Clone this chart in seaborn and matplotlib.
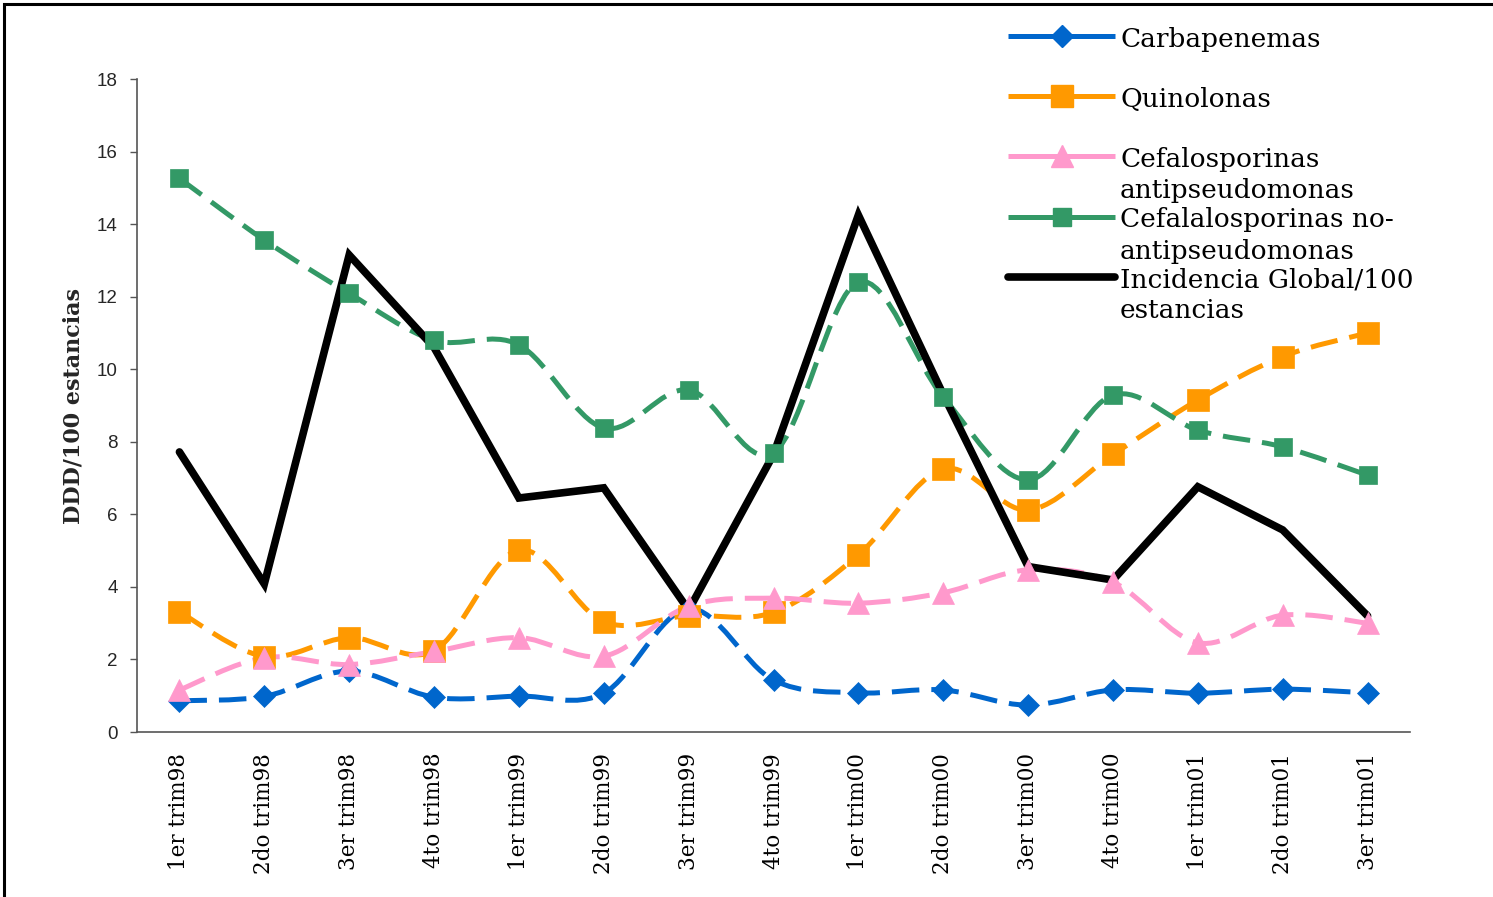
import numpy as np
import pandas as pd
import matplotlib
matplotlib.use("Agg")
import matplotlib.pyplot as plt
from matplotlib.path import Path
from matplotlib.patches import PathPatch, Rectangle
from matplotlib.lines import Line2D
import seaborn as sns

# Quarterly consumption (DDD per 100 stays) and global incidence
trimestres = ["1er trim98", "2do trim98", "3er trim98", "4to trim98",
              "1er trim99", "2do trim99", "3er trim99", "4to trim99",
              "1er trim00", "2do trim00", "3er trim00", "4to trim00",
              "1er trim01", "2do trim01", "3er trim01"]
carbapenemas = [0.86, 0.98, 1.68, 0.96, 0.99, 1.07, 3.40, 1.43, 1.08, 1.16, 0.74, 1.16, 1.07, 1.18, 1.08]
quinolonas = [3.31, 2.08, 2.60, 2.24, 5.02, 3.04, 3.21, 3.30, 4.88, 7.25, 6.12, 7.65, 9.15, 10.35, 11.00]
cefalo_anti = [1.16, 2.05, 1.86, 2.22, 2.60, 2.09, 3.47, 3.69, 3.55, 3.84, 4.47, 4.13, 2.46, 3.22, 3.00]
cefalo_no_anti = [15.26, 13.56, 12.09, 10.80, 10.67, 8.38, 9.43, 7.70, 12.40, 9.23, 6.95, 9.29, 8.32, 7.86, 7.08]
incidencia = [7.72, 4.08, 13.15, 10.60, 6.45, 6.73, 3.36, 7.65, 14.25, 9.30, 4.56, 4.19, 6.76, 5.57, 3.20]

series_names = ["Carbapenemas", "Quinolonas", "Cefalosporinas\nantipseudomonas",
                "Cefalalosporinas no-\nantipseudomonas", "Incidencia Global/100\nestancias"]
y_ticks = [0, 2, 4, 6, 8, 10, 12, 14, 16, 18]

W, H = 1493, 897
sns.set_theme(style="white")
plt.rcParams["font.family"] = ["DejaVu Serif"]

fig = plt.figure(figsize=(W / 100, H / 100), dpi=100)
ax = fig.add_axes([137 / W, 1 - 732 / H, (1410 - 137) / W, (732 - 79) / H])

pos = np.arange(len(trimestres))


def smooth_path(xs, ys):
    """Cubic Bezier path through the points (spreadsheet-style smoothing)."""
    pts = np.column_stack([xs, ys]).astype(float)
    n = len(pts)
    verts = [pts[0]]
    codes = [Path.MOVETO]
    for i in range(n - 1):
        p0 = pts[i - 1] if i > 0 else pts[i]
        p1, p2 = pts[i], pts[i + 1]
        p3 = pts[i + 2] if i + 2 < n else pts[i + 1]
        verts += [p1 + (p2 - p0) / 6.0, p2 - (p3 - p1) / 6.0, p2]
        codes += [Path.CURVE4] * 3
    return Path(verts, codes)


styles = [
    (carbapenemas, "#0066CC", "D", 11.5),
    (quinolonas, "#FF9900", "s", 15.5),
    (cefalo_anti, "#FF99CC", "^", 16),
    (cefalo_no_anti, "#339966", "s", 12.5),
]

# smoothed dashed lines first
for vals, color, _, _ in styles:
    patch = PathPatch(smooth_path(pos, vals), fill=False, edgecolor=color,
                      lw=3.6, linestyle=(0, (5.5, 2.4)), capstyle="butt", zorder=2)
    ax.add_patch(patch)

# global incidence as straight solid line
sns.lineplot(x=pos, y=incidencia, ax=ax, color="black", lw=5.5, sort=False,
             solid_joinstyle="miter", zorder=2.5)

# markers on top of all lines
for vals, color, mk, ms in styles:
    sns.lineplot(x=pos, y=vals, ax=ax, linestyle="", marker=mk, markersize=ms,
                 color=color, markeredgecolor=color, markeredgewidth=0.5,
                 sort=False, zorder=4)

ax.set_xlim(-0.5, len(trimestres) - 0.5)
ax.set_ylim(0, 18)
ax.set_xticks(pos)
ax.set_xticklabels(trimestres, rotation=90, fontsize=15.5, family="DejaVu Serif")
ax.set_xticks(np.arange(-0.5, len(trimestres)), minor=True)
ax.tick_params(axis="x", which="major", length=0, pad=15, colors="black")
ax.tick_params(axis="x", which="minor", length=7, width=1, color="#555555", direction="out")
ax.set_yticks(y_ticks)
ax.set_yticklabels([str(t) for t in y_ticks], fontsize=13.5, family="Liberation Sans")
ax.tick_params(axis="y", which="major", length=5, width=1, color="#555555",
               direction="out", pad=9, left=True)
ax.set_ylabel("DDD/100 estancias", fontsize=16, fontweight="bold",
              family="DejaVu Serif", labelpad=9)
ax.set_xlabel("")

for side in ["top", "right"]:
    ax.spines[side].set_visible(False)
for side in ["left", "bottom"]:
    ax.spines[side].set_color("#555555")
    ax.spines[side].set_linewidth(1.2)
ax.grid(False)

# legend beside the plot, handle aligned with the first text line
handle_y = [36, 96.5, 156.5, 217, 276.5]
line_step = 31
leg_styles = styles + [(None, "black", None, None)]
for name, hy, (vals, color, mk, ms) in zip(series_names, handle_y, leg_styles):
    yf = 1 - hy / H
    lw = 5.5 if mk is None else 3.6
    fig.add_artist(Line2D([1008 / W, 1115 / W], [yf, yf], transform=fig.transFigure,
                          color=color, lw=lw,
                          solid_capstyle="round" if mk is None else "butt"))
    if mk is not None:
        fig.add_artist(Line2D([1062 / W], [yf], transform=fig.transFigure, linestyle="",
                              marker=mk, markersize=ms, color=color, markeredgecolor=color))
    for k, part in enumerate(name.split("\n")):
        fig.text(1120 / W, 1 - (hy + 10.5 + k * line_step) / H, part, ha="left",
                 va="baseline", fontsize=19, family="DejaVu Serif", color="black")

# outer frame
fig.add_artist(Rectangle((4 / W, -0.1), 1.2, 1.1 - 4 / H, transform=fig.transFigure,
                         fill=False, ec="black", lw=2.2))

fig.savefig("out.png", dpi=100)
